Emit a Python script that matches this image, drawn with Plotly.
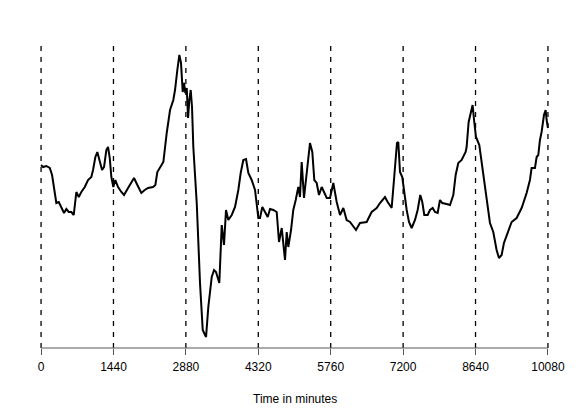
import plotly.graph_objects as go

minutes = [0, 40, 105, 173, 219, 272, 304, 352, 404, 457, 503, 551, 602, 650, 702, 750, 801, 869, 934, 1000,
           1034, 1080, 1119, 1167, 1213, 1253, 1298, 1332, 1366, 1398, 1437, 1477, 1531, 1597, 1650, 1730, 1849,
           1915, 1994, 2062, 2127, 2227, 2273, 2312,
           2366, 2432, 2499, 2565, 2630, 2664, 2710, 2750, 2783, 2817, 2843, 2869, 2897, 2923, 2949, 2976, 3002,
           3028, 3096, 3161, 3215, 3247, 3281, 3326, 3394, 3440, 3479, 3545, 3593, 3638, 3678, 3724, 3792, 3857,
           3923, 3970, 4022,
           4076, 4122, 4188,
           4255, 4321, 4354, 4400, 4454, 4507, 4553, 4619, 4686, 4732, 4786, 4818, 4851, 4885, 4917, 4971, 5016,
           5064, 5116, 5149, 5183, 5229, 5283, 5348, 5394, 5434, 5481, 5527, 5581, 5633, 5681, 5746, 5812, 5879, 5945,
           6011, 6077, 6144, 6263, 6342, 6475, 6574, 6674, 6740,
           6839, 6893, 6939, 6972, 7005, 7052, 7078, 7104, 7138, 7183, 7223, 7271, 7317, 7370, 7436, 7489, 7541,
           7581, 7621, 7688, 7734, 7788, 7834, 7887, 7933, 7979, 8066, 8132, 8198, 8245, 8297, 8364, 8443,
           8463, 8503, 8543, 8582, 8615, 8649, 8715, 8808, 8927, 8993, 9059, 9106, 9159, 9205, 9291, 9358, 9457,
           9557, 9656, 9722, 9755, 9822, 9855, 9888, 9921, 9954, 10001, 10034, 10054, 10080]

values = [185, 183, 184, 182, 175, 157, 147, 148, 143, 137, 141, 138, 138, 135, 158, 153, 158, 163, 170, 173,
          180, 193, 198, 190, 180, 183, 200, 203, 192, 173, 163, 170, 163, 158, 155, 162, 172,
          165, 157, 160, 162, 163, 165, 178,
          182, 188, 217, 240, 250, 260, 280, 295, 287, 258, 267, 257, 262, 232, 250, 260, 243,
          203, 147, 67, 20, 17, 13, 43, 73, 80, 78, 67, 125, 105, 140, 130, 135, 143,
          160, 177, 190,
          191, 177, 170,
          160, 132, 132, 143, 138, 133, 141, 140, 138, 108, 122, 105, 90, 118, 103, 120, 140,
          150, 163, 153, 188, 152, 180, 207, 198, 170, 167, 155, 163, 158, 152, 152, 167, 148, 135,
          142, 130, 128, 120, 127, 128, 138, 142, 147,
          153, 148, 145, 142, 162, 190, 207, 208, 178, 173, 157, 140, 128, 122, 130, 140, 155,
          148, 135, 135, 140, 142, 138, 137, 150, 147, 146, 145, 155, 175, 187, 190, 198,
          203, 228, 237, 245, 228, 213, 205, 170, 127, 118, 100, 92, 95, 107, 118, 128, 132,
          142, 157, 170, 182, 182, 193, 195, 210, 218, 235, 240, 230, 222]

day_marks = [0, 1440, 2880, 4320, 5760, 7200, 8640, 10080]
tick_labels = [str(d) for d in day_marks]
x_title = "Time in minutes"

fig = go.Figure()
fig.add_trace(go.Scatter(x=minutes, y=values, mode="lines",
                         line=dict(color="black", width=2), hoverinfo="skip", showlegend=False))

for d in day_marks:
    fig.add_shape(type="line", xref="x", yref="paper", x0=d, x1=d, y0=0, y1=1,
                  line=dict(color="black", width=1.3, dash="5px,6px"), layer="above")

# R-style axis line spanning first to last tick
fig.add_shape(type="line", xref="x", yref="paper", x0=day_marks[0], x1=day_marks[-1], y0=0, y1=0,
              line=dict(color="#555555", width=1), layer="above")

fig.add_annotation(text=x_title, xref="paper", yref="paper", x=0.5, y=0, yanchor="middle",
                   yshift=-51, showarrow=False, font=dict(size=12, color="black"))

fig.update_layout(
    template="none",
    width=560, height=398,
    margin=dict(l=23, r=10, t=35, b=58, autoexpand=False),
    plot_bgcolor="white", paper_bgcolor="white",
    font=dict(family="Liberation Sans, Arial, sans-serif", size=12, color="black"),
    xaxis=dict(range=[-200, 10280], tickvals=day_marks, ticktext=tick_labels,
               showgrid=False, zeroline=False, showline=False, automargin=False,
               ticks="outside", ticklen=6, tickcolor="#555555", tickwidth=1,
               ticklabelstandoff=2, fixedrange=True),
    yaxis=dict(range=[2, 307], visible=False, showgrid=False, zeroline=False,
               automargin=False, fixedrange=True),
)

fig.write_html("out.html")
